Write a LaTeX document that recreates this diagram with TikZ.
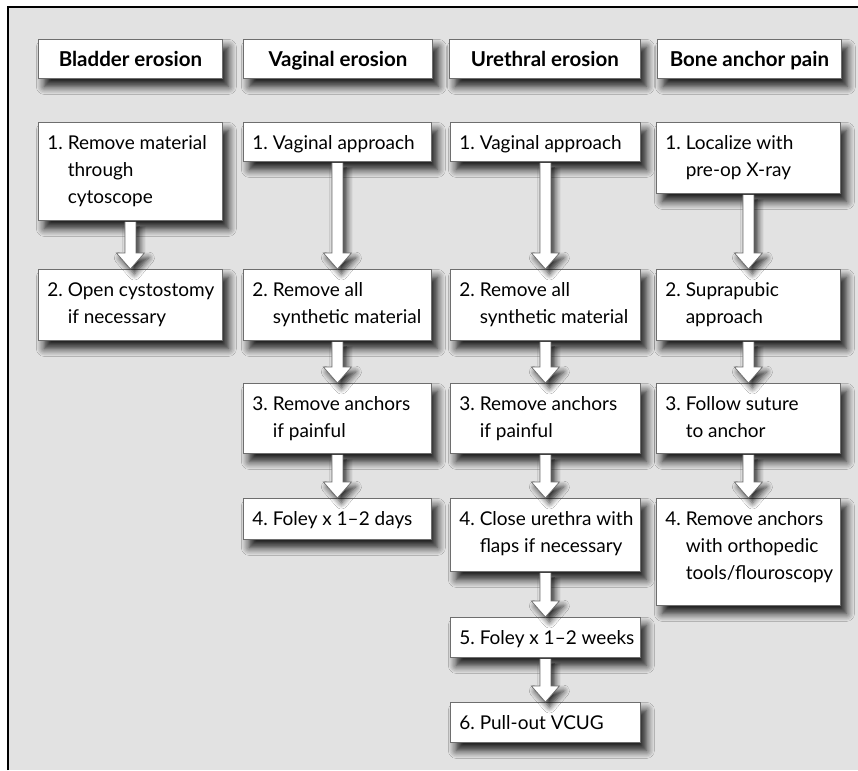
\documentclass[tikz,border=0pt]{standalone}
\usepackage{fontspec}
\setmainfont{Lato}
\usetikzlibrary{calc,shadows.blur}
\definecolor{bgcol}{HTML}{E2E2E2}
\definecolor{edgecol}{HTML}{6E6E6E}
\newcommand\steptext[3]{\parbox[c][#1][t]{#2}{\rule{0pt}{27pt}\hspace*{9pt}\begin{tabular}[t]{@{}l@{\ }l@{}}#3\end{tabular}}}
\newcommand\flowarrow[2]{\path[flowarr] ($(#1.south)+(-5.5,1)$) -- ($(#2.north)+(-5.5,-16)$) -- ($(#2.north)+(-14,-16)$) -- (#2.north) -- ($(#2.north)+(14,-16)$) -- ($(#2.north)+(5.5,-16)$) -- ($(#1.south)+(5.5,1)$);}
\tikzset{
  myshadow/.style={blur shadow={shadow xshift=6pt, shadow yshift=-8pt, shadow blur radius=8pt, shadow blur steps=8, shadow opacity=90}},
  stepbox/.style={draw=edgecol, fill=white, line width=0.8pt, inner sep=0pt, anchor=north west, myshadow,
    font=\fontsize{19}{27}\selectfont},
  hdrbox/.style={draw=edgecol, fill=white, line width=0.8pt, inner sep=0pt, anchor=north west, myshadow,
    minimum height=39pt, text height=19pt, text depth=3pt, font=\bfseries\fontsize{20.5}{24}\selectfont},
  flowarr/.style={draw=edgecol, fill=white, line width=0.7pt, line join=miter,
    blur shadow={shadow xshift=4pt, shadow yshift=-5pt, shadow blur radius=6pt, shadow blur steps=6, shadow opacity=80}},
}
\begin{document}
\begin{tikzpicture}[x=1pt,y=-1pt]
\useasboundingbox (0,0) rectangle (858,770);
\fill[bgcol] (9,8) rectangle (858,770);
\draw[line width=2.5pt] (8,770) -- (8,7) -- (858,7);

% headers
\node[hdrbox, minimum width=184pt] (hB) at (38,39) {Bladder erosion};
\node[hdrbox, minimum width=189pt] (hV) at (243,39) {Vaginal erosion};
\node[hdrbox, minimum width=191pt] (hU) at (449,39) {Urethral erosion};
\node[hdrbox, minimum width=184pt] (hA) at (657,39) {Bone anchor pain};

% bladder column
\node[stepbox] (B1) at (38,122) {\steptext{98pt}{184pt}{1. & Remove material\\ & through\\ & cytoscope}};
\node[stepbox] (B2) at (38,269) {\steptext{71pt}{184pt}{2. & Open cystostomy\\ & if necessary}};

% vaginal column
\node[stepbox] (V1) at (243,122) {\steptext{39pt}{188pt}{1. & Vaginal approach}};
\node[stepbox] (V2) at (243,269) {\steptext{71pt}{188pt}{2. & Remove all\\ & synthetic material}};
\node[stepbox] (V3) at (243,383) {\steptext{70pt}{188pt}{3. & Remove anchors\\ & if painful}};
\node[stepbox] (V4) at (243,498) {\steptext{41pt}{188pt}{4. & Foley x 1--2 days}};

% urethral column
\node[stepbox] (U1) at (450,122) {\steptext{39pt}{190pt}{1. & Vaginal approach}};
\node[stepbox] (U2) at (450,269) {\steptext{71pt}{190pt}{2. & Remove all\\ & synthetic material}};
\node[stepbox] (U3) at (450,383) {\steptext{70pt}{190pt}{3. & Remove anchors\\ & if painful}};
\node[stepbox] (U4) at (450,498) {\steptext{73pt}{190pt}{4. & Close urethra with\\ & flaps if necessary}};
\node[stepbox] (U5) at (450,617) {\steptext{40pt}{190pt}{5. & Foley x 1--2 weeks}};
\node[stepbox] (U6) at (450,702) {\steptext{40pt}{190pt}{6. & Pull-out VCUG}};

% bone anchor column
\node[stepbox] (A1) at (656,122) {\steptext{71pt}{184pt}{1. & Localize with\\ & pre-op X-ray}};
\node[stepbox] (A2) at (656,269) {\steptext{71pt}{184pt}{2. & Suprapubic\\ & approach}};
\node[stepbox] (A3) at (656,383) {\steptext{70pt}{184pt}{3. & Follow suture\\ & to anchor}};
\node[stepbox] (A4) at (656,498) {\steptext{107pt}{184pt}{4. & Remove anchors\\ & with orthopedic\\ & tools/flouroscopy}};

% arrows
\flowarrow{B1}{B2}
\flowarrow{V1}{V2}
\flowarrow{V2}{V3}
\flowarrow{V3}{V4}
\flowarrow{U1}{U2}
\flowarrow{U2}{U3}
\flowarrow{U3}{U4}
\flowarrow{U4}{U5}
\flowarrow{U5}{U6}
\flowarrow{A1}{A2}
\flowarrow{A2}{A3}
\flowarrow{A3}{A4}
\end{tikzpicture}
\end{document}
